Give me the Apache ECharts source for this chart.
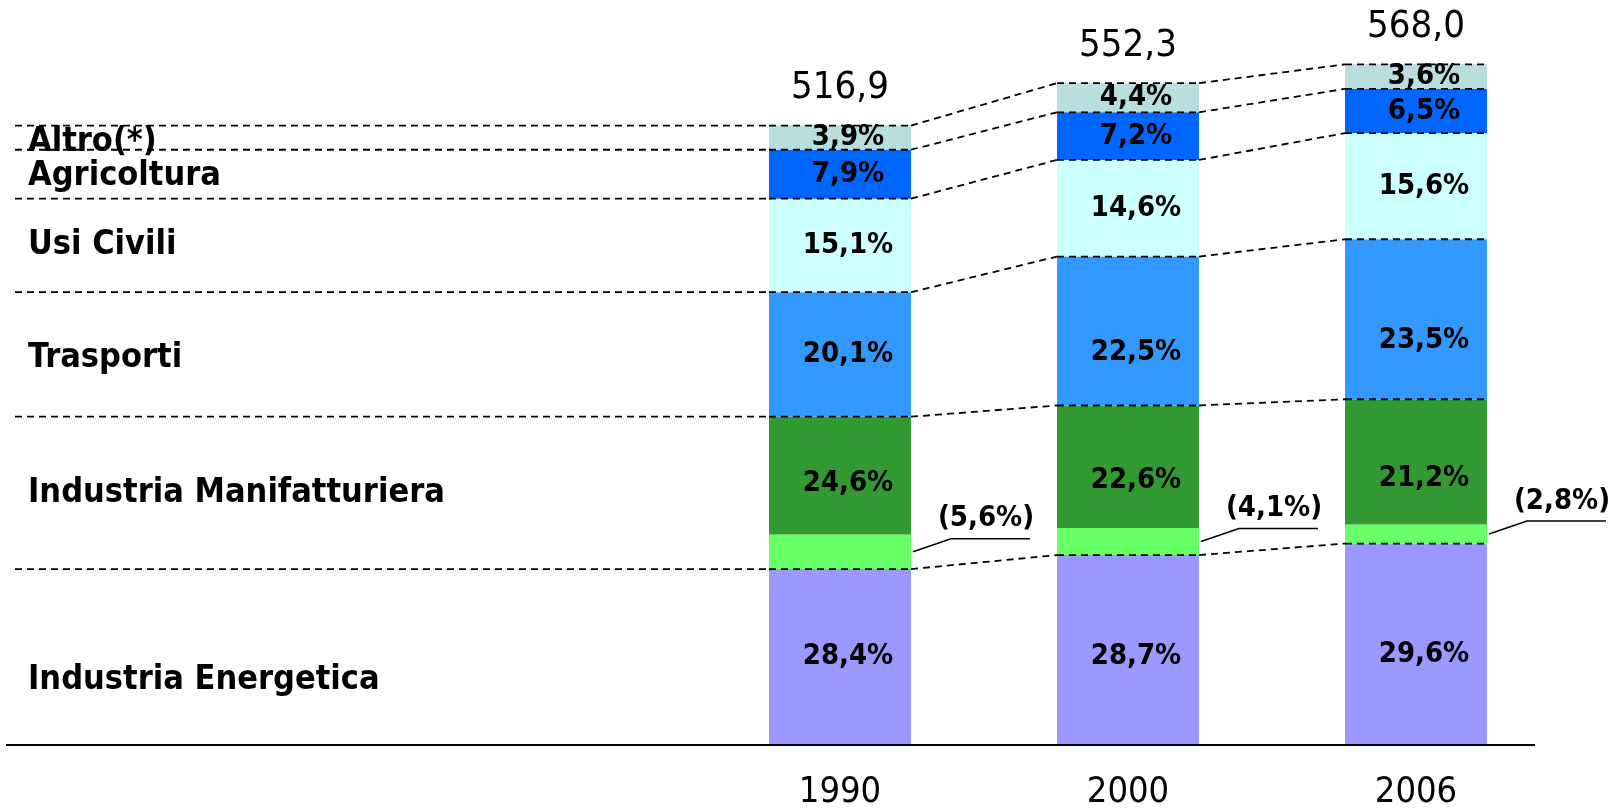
<!DOCTYPE html>
<html>
<head>
<meta charset="utf-8">
<script src="https://cdn.jsdelivr.net/npm/echarts@6/dist/echarts.min.js"></script>
<style>
html,body{margin:0;padding:0;background:#fff;}
#chart{width:1612px;height:811px;}
</style>
</head>
<body>
<div id="chart"></div>
<script>
// ---- data ----
const years = ['1990', '2000', '2006'];
const totals = [516.9, 552.3, 568.0];
const sectorNames = ['Industria Energetica', 'Industria Manifatturiera', 'Trasporti', 'Usi Civili', 'Agricoltura', 'Altro(*)'];
const pctEnergetica = [28.4, 28.7, 29.6];
const pctManifatturiera = [24.6, 22.6, 21.2];
const pctManifParentesi = [5.6, 4.1, 2.8];
const pctTrasporti = [20.1, 22.5, 23.5];
const pctUsiCivili = [15.1, 14.6, 15.6];
const pctAgricoltura = [7.9, 7.2, 6.5];
const pctAltro = [3.9, 4.4, 3.6];

// ---- styles / layout ----
const FONT = '"DejaVu Sans Condensed", "DejaVu Sans", sans-serif';
const BAR_W = 142;
const colors = ['#9999FF', '#66FF66', '#339933', '#3399FF', '#CCFFFF', '#0066FF', '#B9DEE0'];
// small vertical nudges (px) of the percentage labels, per sector and bar, as placed in the original
const pctLabelNudge = [[-1, 6, 10], [-9, 0, 7], [0, 21, 21], [0, 0, 0], [0, 0, 0], [0, 0, 0]];
const leftLabelNudge = [23, 0, 4, 0, 2, 5];

const fmtPct = v => v.toFixed(1).replace('.', ',') + '%';
const fmtTot = v => v.toFixed(1).replace('.', ',');
const abs = (pcts) => pcts.map((p, i) => +(totals[i] * p / 100).toFixed(3));

// stacked pieces, bottom -> top
const stackPct = [
  pctEnergetica,
  pctManifParentesi,
  pctManifatturiera.map((p, i) => +(p - pctManifParentesi[i]).toFixed(1)),
  pctTrasporti,
  pctUsiCivili,
  pctAgricoltura,
  pctAltro
];
const stackNames = ['Industria Energetica', 'Industria Manifatturiera (quota)', 'Industria Manifatturiera', 'Trasporti', 'Usi Civili', 'Agricoltura', 'Altro(*)'];
const stackVals = stackPct.map(abs);

function cumFor(i) {
  const c = []; let s = 0;
  stackVals.forEach(arr => { s += arr[i]; c.push(s); });
  return c;
}

function dashed(x1, y1, x2, y2) {
  return { type: 'line', silent: true, shape: { x1, y1, x2, y2 },
    style: { stroke: '#000', lineWidth: 1.8, lineDash: [7, 5] } };
}
function txt(text, x, y, size, weight, align) {
  return { type: 'text', silent: true,
    style: { text, x, y, fill: '#000', fontSize: size, fontWeight: weight, fontFamily: FONT,
      align: align || 'center', verticalAlign: 'middle' } };
}

function renderItem(params, api) {
  const i = api.value(0);
  const half = BAR_W / 2;
  const cx = api.coord([i, 0])[0];
  const left = cx - half, right = cx + half;
  const yv = v => api.coord([i, v])[1];
  const cum = cumFor(i);
  const ch = [];
  const bIdx = [0, 2, 3, 4, 5, 6];

  if (i === 0) {
    ch.push({ type: 'line', silent: true, shape: { x1: 6, y1: yv(0), x2: 1535, y2: yv(0) },
      style: { stroke: '#000', lineWidth: 2 } });
  }

  bIdx.forEach(k => {
    const yy = yv(cum[k]);
    ch.push(dashed(left, yy, right, yy));
    if (i === 0) ch.push(dashed(15, yy, left, yy));
    if (i < years.length - 1) {
      const cn = cumFor(i + 1);
      const nx = api.coord([i + 1, 0])[0] - half;
      ch.push(dashed(right, yy, nx, api.coord([i + 1, cn[k]])[1]));
    }
  });

  // sector ranges: [low, high, pct]
  const ranges = [
    [0, cum[0], pctEnergetica[i]],
    [cum[0], cum[2], pctManifatturiera[i]],
    [cum[2], cum[3], pctTrasporti[i]],
    [cum[3], cum[4], pctUsiCivili[i]],
    [cum[4], cum[5], pctAgricoltura[i]],
    [cum[5], cum[6], pctAltro[i]]
  ];
  ranges.forEach((r, k) => {
    ch.push(txt(fmtPct(r[2]), cx + 8, yv((r[0] + r[1]) / 2) + pctLabelNudge[k][i], 29, 'bold'));
  });

  // total above bar
  ch.push(txt(fmtTot(totals[i]), cx, yv(cum[6]) - 37, 38, 'normal'));

  // leader for parenthesised share
  const yl = yv((cum[0] + cum[1]) / 2);
  ch.push({ type: 'polyline', silent: true,
    shape: { points: [[right + 2, yl], [right + 40, yl - 13], [right + 119, yl - 13]] },
    style: { stroke: '#000', lineWidth: 1.6, fill: null } });
  ch.push(txt('(' + fmtPct(pctManifParentesi[i]) + ')', right + 75, yl - 33, 29, 'bold'));

  // left labels next to the 1990 bar
  if (i === 0) {
    ranges.forEach((r, k) => {
      ch.push(txt(sectorNames[k], 28, yv((r[0] + r[1]) / 2) + leftLabelNudge[k], 34, 'bold', 'left'));
    });
  }
  return { type: 'group', children: ch };
}

const series = stackVals.map((vals, k) => ({
  name: stackNames[k],
  type: 'bar',
  stack: 'tot',
  barWidth: BAR_W,
  itemStyle: { color: colors[k] },
  emphasis: { disabled: true },
  data: vals
}));
series.push({
  type: 'custom',
  renderItem,
  clip: false,
  silent: true,
  z: 5,
  encode: { x: 0, y: 1 },
  data: years.map((y, i) => [i, 0])
});

const chart = echarts.init(document.getElementById('chart'), null, { renderer: 'canvas' });
chart.setOption({
  animation: false,
  backgroundColor: '#fff',
  grid: { left: 696, right: 52, top: 26, bottom: 64 },
  xAxis: {
    type: 'category',
    data: years,
    axisLine: { show: false },
    axisTick: { show: false },
    axisLabel: { color: '#000', fontSize: 36, fontFamily: FONT, margin: 30 }
  },
  yAxis: { type: 'value', min: 0, max: 600, show: false },
  series
});
</script>
</body>
</html>
